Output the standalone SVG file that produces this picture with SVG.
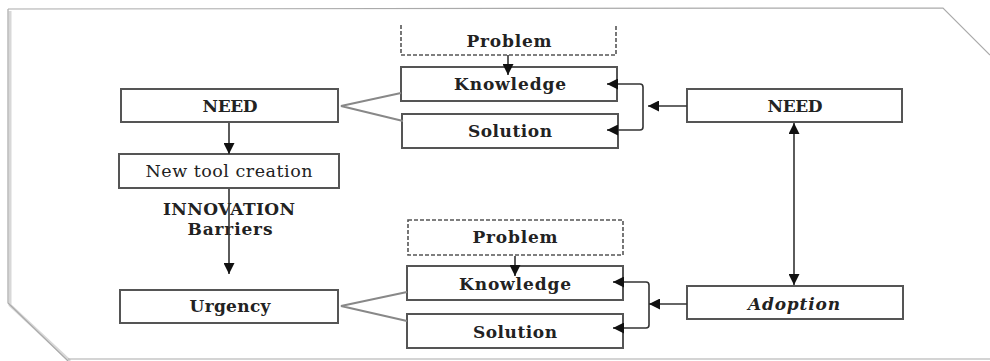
<svg xmlns="http://www.w3.org/2000/svg" width="990" height="361" viewBox="0 0 990 361">
<defs>
<style>
.box{fill:#fff;stroke:#555;stroke-width:2}
.dash{fill:none;stroke:#555;stroke-width:1.6;stroke-dasharray:4 2}
.t{font-family:"DejaVu Serif","Liberation Serif",serif;font-weight:bold;font-size:17px;fill:#222;text-anchor:middle}
.r{font-weight:normal;font-size:17.5px}
.line{fill:none;stroke:#333;stroke-width:1.6}
.gray{fill:none;stroke:#888;stroke-width:2}
</style>
<marker id="ah" viewBox="0 0 10 10" refX="10" refY="5" markerWidth="11" markerHeight="11" markerUnits="userSpaceOnUse" orient="auto-start-reverse">
<path d="M0,0 L10,5 L0,10 z" fill="#111"/>
</marker>
</defs>
<rect width="990" height="361" fill="#fff"/>
<g id="frame">
<path d="M10,11 L10,305 L70,361" fill="none" stroke="#d8d8d8" stroke-width="3"/>
<path d="M8,9 L943,8 L990,55 M8,9 L8,303 L68,361 M68,359 L990,359" fill="none" stroke="#aaa" stroke-width="1.2"/>
</g>
<g id="need-left"><rect class="box" x="121" y="89" width="217" height="33"/><text class="t" x="230" y="112" textLength="55">NEED</text></g>
<g id="new-tool"><rect class="box" x="119" y="154" width="220" height="34"/><text class="t r" x="229" y="177" textLength="167">New tool creation</text></g>
<g id="innovation"><text class="t" x="229" y="215" textLength="132">INNOVATION</text><text class="t" x="230" y="235" textLength="85">Barriers</text></g>
<g id="urgency"><rect class="box" x="120" y="290" width="218" height="33"/><text class="t" x="230" y="312" textLength="81">Urgency</text></g>
<g id="problem-top"><path class="dash" d="M401,25 L401,55 L616,55 L616,25"/><text class="t" x="509" y="47" textLength="85">Problem</text></g>
<g id="knowledge-top"><rect class="box" x="401" y="67" width="216" height="34"/><text class="t" x="510" y="90" textLength="112">Knowledge</text></g>
<g id="solution-top"><rect class="box" x="402" y="114" width="216" height="34"/><text class="t" x="510" y="137" textLength="84">Solution</text></g>
<g id="problem-bottom"><rect class="dash" x="408" y="220" width="215" height="35"/><text class="t" x="515" y="243" textLength="85">Problem</text></g>
<g id="knowledge-bottom"><rect class="box" x="407" y="266" width="216" height="34"/><text class="t" x="515" y="290" textLength="112">Knowledge</text></g>
<g id="solution-bottom"><rect class="box" x="407" y="314" width="216" height="34"/><text class="t" x="515" y="338" textLength="84">Solution</text></g>
<g id="need-right"><rect class="box" x="687" y="89" width="215" height="33"/><text class="t" x="795" y="112" textLength="55">NEED</text></g>
<g id="adoption"><rect class="box" x="687" y="286" width="216" height="33"/><text class="t" x="794" y="310" font-style="italic" textLength="92">Adoption</text></g>
<g id="connectors">
<line class="line" x1="229" y1="123" x2="229" y2="154" marker-end="url(#ah)"/>
<line class="line" x1="229" y1="189" x2="229" y2="274" marker-end="url(#ah)"/>
<line class="line" x1="508" y1="55" x2="508" y2="75" marker-end="url(#ah)"/>
<line class="line" x1="515" y1="256" x2="515" y2="276" marker-end="url(#ah)"/>
<path class="gray" d="M401,93 L341,106 L403,121"/>
<path class="gray" d="M407,292 L341,306 L407,321"/>
<path class="line" d="M617,84 L640,84 Q643,84 643,87 L643,127 Q643,130 640,130 L617,130"/>
<line class="line" x1="618" y1="84" x2="607" y2="84" marker-end="url(#ah)"/>
<line class="line" x1="618" y1="130" x2="607" y2="130" marker-end="url(#ah)"/>
<line class="line" x1="687" y1="106" x2="648" y2="106" marker-end="url(#ah)"/>
<path class="line" d="M623,282 L646,282 Q649,282 649,285 L649,325 Q649,328 646,328 L623,328"/>
<line class="line" x1="624" y1="282" x2="613" y2="282" marker-end="url(#ah)"/>
<line class="line" x1="624" y1="328" x2="613" y2="328" marker-end="url(#ah)"/>
<line class="line" x1="687" y1="304" x2="649" y2="304" marker-end="url(#ah)"/>
<line class="line" x1="794" y1="123" x2="794" y2="285" marker-start="url(#ah)" marker-end="url(#ah)"/>
</g>
</svg>
